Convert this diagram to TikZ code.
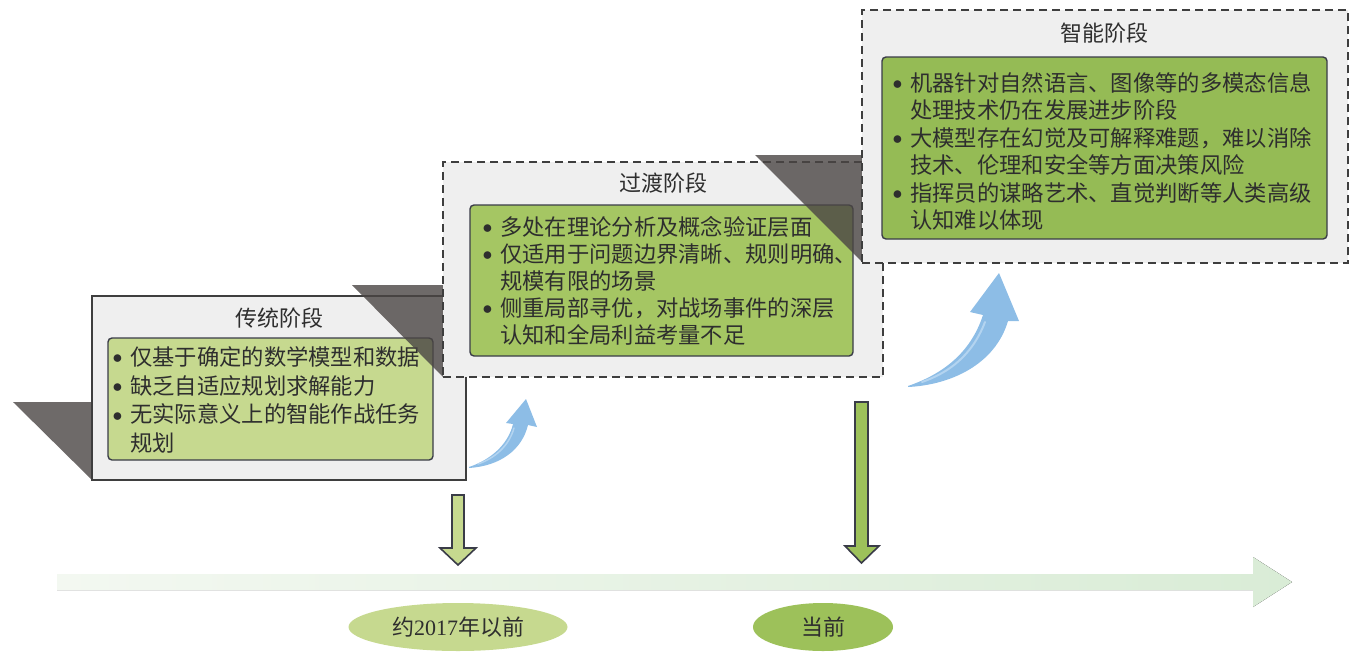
\documentclass[tikz,border=0pt]{standalone}
\usepackage{fontspec}
\setmainfont{Liberation Serif}
\newfontfamily\cjk{Noto Sans CJK SC}
\usetikzlibrary{shapes.geometric}
\definecolor{boxgray}{HTML}{EFEFEF}
\definecolor{edgegray}{HTML}{3E3E3E}
\definecolor{inedge}{HTML}{3A3C48}
\definecolor{greenA}{HTML}{C6D98F}
\definecolor{greenB}{HTML}{A5C663}
\definecolor{greenC}{HTML}{95BB55}
\definecolor{greenE}{HTML}{9DC15A}
\definecolor{shadowc}{HTML}{4A4544}
\definecolor{txt}{HTML}{2E2E2E}
\definecolor{blueA}{HTML}{8DBDE6}
\definecolor{blueL}{HTML}{B3D4F0}
\definecolor{tlleft}{HTML}{F3F8F1}
\definecolor{tlright}{HTML}{D9ECD6}
\newcommand\bul{\makebox[16pt][l]{\hspace*{-1.5pt}\raisebox{0.08em}{\scalebox{0.95}{$\bullet$}}}}
\newcommand\ind{\hspace*{16pt}}
\begin{document}
\begin{tikzpicture}[x=1pt,y=-1pt,
  outerbox/.style={draw=edgegray, fill=boxgray, line width=1.1pt, inner sep=0pt},
  dashbox/.style={outerbox, dash pattern=on 8pt off 5pt},
  innerbox/.style={draw=inedge, line width=1.4pt, rounded corners=4pt, inner sep=0pt},
  titletxt/.style={font=\cjk\fontsize{22}{26}\selectfont, text=txt, inner sep=0pt},
  bodytxt/.style={font=\cjk\fontsize{22.3}{#1}\selectfont, text=txt, align=left, inner sep=0pt, anchor=west},
  shadowtri/.style={fill=shadowc, fill opacity=0.8},
  downarrow/.style={draw=inedge, line width=1.6pt, line join=miter},
  stage/.style={ellipse, inner sep=0pt, minimum height=48pt, font=\fontsize{22}{26}\selectfont, text=txt}
]
\useasboundingbox (0,0) rectangle (1350,657);

% timeline
\fill[left color=tlleft, right color=tlright] (57,574) -- (1253,574) -- (1253,557) -- (1292,582) -- (1253,607) -- (1253,590) -- (57,590) -- cycle;

% ---- box 1
\fill[shadowtri] (13,402) -- (92,402) -- (92,480) -- cycle;
\node[outerbox, minimum width=374pt, minimum height=184pt] (b1) at (279,388) {};
\node[innerbox, fill=greenA, minimum width=325pt, minimum height=122pt] (i1) at (270.5,399) {};
\node[titletxt] (t1) at (279,318) {传统阶段};
\node[bodytxt=28.6pt] (x1) at (114,400) {\bul 仅基于确定的数学模型和数据\\ \bul 缺乏自适应规划求解能力\\ \bul 无实际意义上的智能作战任务\\ \ind 规划};

% ---- box 2
\fill[shadowtri] (352,285) -- (443,285) -- (443,377) -- cycle;
\node[dashbox, minimum width=440pt, minimum height=215pt] (b2) at (663,269.5) {};
\node[innerbox, fill=greenB, minimum width=383pt, minimum height=151pt] (i2) at (661.5,280.5) {};
\node[titletxt] (t2) at (663,183) {过渡阶段};
\node[bodytxt=27pt] (x2) at (484,281) {\bul 多处在理论分析及概念验证层面\\ \bul 仅适用于问题边界清晰、规则明确、\\ \ind 规模有限的场景\\ \bul 侧重局部寻优，对战场事件的深层\\ \ind 认知和全局利益考量不足};

% ---- box 3
\fill[shadowtri] (755,155) -- (862,155) -- (862,262) -- cycle;
\node[dashbox, minimum width=486pt, minimum height=253pt] (b3) at (1105,136.5) {};
\node[innerbox, fill=greenC, minimum width=445pt, minimum height=182pt] (i3) at (1104.5,148) {};
\node[titletxt] (t3) at (1104,33) {智能阶段};
\node[bodytxt=27.4pt] (x3) at (894,151.5) {\bul 机器针对自然语言、图像等的多模态信息\\ \ind 处理技术仍在发展进步阶段\\ \bul 大模型存在幻觉及可解释难题，难以消除\\ \ind 技术、伦理和安全等方面决策风险\\ \bul 指挥员的谋略艺术、直觉判断等人类高级\\ \ind 认知难以体现};

% ---- curved blue arrows
\fill[blueA] (469,467) .. controls (490,460) and (508,445) .. (513,424) -- (506,423) -- (526,399) -- (537,427) -- (528,425) .. controls (522,450) and (500,466) .. (469,468) -- cycle;
\draw[blueL, line width=1.5pt, line cap=round] (478,464) .. controls (495,458) and (509,446) .. (514,428);
\fill[blueA] (908,386) .. controls (940,375) and (970,355) .. (983,315) -- (970,312) -- (999,273) -- (1019,321) -- (1008,321) .. controls (995,365) and (950,385) .. (908,387) -- cycle;
\draw[blueL, line width=2pt, line cap=round] (922,382) .. controls (948,373) and (972,356) .. (985,322);

% ---- down arrows
\draw[downarrow, fill=greenA] (452,495) -- (464,495) -- (464,548) -- (476,548) -- (458,565) -- (440,548) -- (452,548) -- cycle;
\draw[downarrow, fill=greenE] (855,402) -- (868,402) -- (868,546) -- (879,546) -- (861.5,563) -- (845,546) -- (855,546) -- cycle;

% ---- stage ellipses
\node[stage, fill=greenA, minimum width=219pt] (e1) at (458,627) {{\cjk 约}2017{\cjk 年以前}};
\node[stage, fill=greenE, minimum width=140pt] (e2) at (823,627) {\cjk 当前};
\end{tikzpicture}
\end{document}
